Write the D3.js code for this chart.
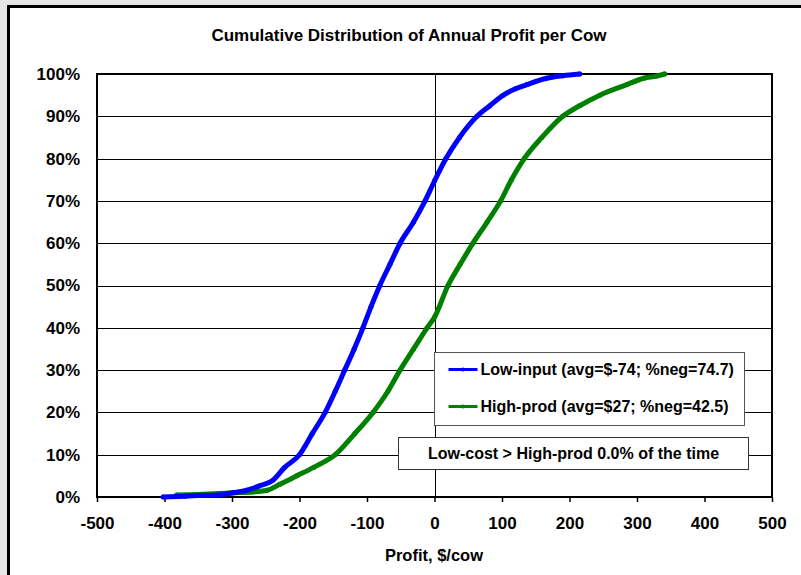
<!DOCTYPE html>
<html>
<head>
<meta charset="utf-8">
<script src="https://cdn.jsdelivr.net/npm/d3@7"></script>
<style>
  body { margin: 0; background: #e6e6e6; }
  svg { display: block; }
  text { font-family: "Liberation Sans", Arial, sans-serif; font-weight: bold; fill: #000; }
</style>
</head>
<body>
<script>
// tick values
const pctTicks = [0, 0.1, 0.2, 0.3, 0.4, 0.5, 0.6, 0.7, 0.8, 0.9, 1.0];
const profitTicks = [-500, -400, -300, -200, -100, 0, 100, 200, 300, 400, 500];

// Low-input: profit ($/cow) vs cumulative share
const lowInputProfit = [-402, -370, -340, -320, -298, -278, -260, -239, -222, -200, -181, -162, -147, -133, -119, -106, -94, -81, -66, -51, -31, -14, 0, 17, 37, 63, 82, 102, 120, 137, 166, 190, 215];
const lowInputPct    = [0, 0.002, 0.004, 0.005, 0.01, 0.016, 0.026, 0.04, 0.07, 0.10, 0.15, 0.20, 0.25, 0.30, 0.35, 0.40, 0.45, 0.50, 0.55, 0.60, 0.65, 0.70, 0.747, 0.80, 0.85, 0.90, 0.925, 0.95, 0.965, 0.975, 0.99, 0.996, 1.0];

// High-prod
const highProdProfit = [-382, -350, -320, -300, -270, -248, -229, -204, -179, -147, -118, -91, -69, -51, -31, -11, 0, 20, 38, 57, 78, 98, 114, 133, 159, 190, 215, 245, 285, 310, 329, 341];
const highProdPct    = [0.005, 0.006, 0.008, 0.01, 0.012, 0.016, 0.03, 0.05, 0.07, 0.10, 0.15, 0.20, 0.25, 0.30, 0.35, 0.40, 0.425, 0.50, 0.55, 0.60, 0.65, 0.70, 0.75, 0.80, 0.85, 0.90, 0.925, 0.95, 0.975, 0.99, 0.995, 1.0];

const seriesNames = ["Low-input (avg=$-74; %neg=74.7)", "High-prod (avg=$27; %neg=42.5)"];
const seriesColours = ["#0000ff", "#008000"];
const titleText = "Cumulative Distribution of Annual Profit per Cow";
const xTitle = "Profit, $/cow";
const noteText = "Low-cost > High-prod 0.0% of the time";

const W = 801, H = 575;
const margin = {top: 74, right: 29, bottom: 78, left: 97};
const width = W - margin.left - margin.right,
    height = H - margin.top - margin.bottom;

const svg = d3.select("body").append("svg")
    .attr("width", W)
    .attr("height", H);

// outer chart frame (runs off the right and bottom)
svg.append("rect")
    .attr("x", 8.5).attr("y", 6.5)
    .attr("width", W + 20).attr("height", H + 20)
    .attr("fill", "#fff")
    .attr("stroke", "#000")
    .attr("stroke-width", 3);

const x = d3.scaleLinear().domain([-500, 500]).range([0, width]);
const y = d3.scaleLinear().domain([0, 1]).range([height, 0]);

const g = svg.append("g")
    .attr("transform", `translate(${margin.left},${margin.top})`);

// horizontal gridlines
g.append("g")
    .call(d3.axisLeft(y).tickValues(pctTicks).tickSize(-width).tickFormat(""))
    .call(a => a.select(".domain").remove())
    .call(a => a.selectAll("line").attr("stroke", "#000").attr("shape-rendering", "crispEdges"));

// y tick labels on the left
g.append("g")
    .call(d3.axisLeft(y).tickValues(pctTicks).tickSize(0).tickPadding(17).tickFormat(d3.format(".0%")))
    .call(a => a.select(".domain").remove())
    .call(a => a.selectAll("text").attr("font-size", 17).attr("font-family", null));

// value axis crossing at 0
g.append("g")
    .attr("transform", `translate(${x(0)},0)`)
    .call(d3.axisLeft(y).tickValues(pctTicks).tickSize(4).tickFormat(""))
    .call(a => a.selectAll("path, line").attr("stroke", "#000").attr("shape-rendering", "crispEdges"));

// x axis
g.append("g")
    .attr("transform", `translate(0,${height})`)
    .call(d3.axisBottom(x).tickValues(profitTicks).tickSize(5).tickPadding(15).tickFormat(d => String(d)))
    .call(a => a.select(".domain").remove())
    .call(a => a.selectAll("line").attr("stroke", "#000").attr("stroke-width", 1.5))
    .call(a => a.selectAll("text").attr("font-size", 17).attr("font-family", null));

// plot border
g.append("rect")
    .attr("width", width).attr("height", height)
    .attr("fill", "none")
    .attr("stroke", "#000")
    .attr("stroke-width", 2);

// curves
const line = d3.line()
    .curve(d3.curveMonotoneX)
    .x(d => x(d[0]))
    .y(d => y(d[1]));

const series = [
    d3.zip(lowInputProfit, lowInputPct),
    d3.zip(highProdProfit, highProdPct)
];

series.slice().reverse().forEach((pts, i) => {
    const c = seriesColours[series.length - 1 - i];
    g.append("path")
        .datum(pts)
        .attr("d", line)
        .attr("fill", "none")
        .attr("stroke", c)
        .attr("stroke-width", 5)
        .attr("stroke-linejoin", "round")
        .attr("stroke-linecap", "round");
    g.append("g").selectAll("circle")
        .data(pts)
        .join("circle")
        .attr("cx", d => x(d[0]))
        .attr("cy", d => y(d[1]))
        .attr("r", 2.5)
        .attr("fill", c);
});

// legend
const legend = svg.append("g").attr("transform", "translate(434.5,352.5)");
legend.append("rect")
    .attr("width", 310).attr("height", 73)
    .attr("fill", "#fff")
    .attr("stroke", "#555")
    .attr("stroke-width", 1);
seriesNames.forEach((name, i) => {
    const row = legend.append("g").attr("transform", `translate(0,${17 + i * 37})`);
    row.append("line")
        .attr("x1", 14).attr("x2", 43)
        .attr("stroke", seriesColours[i])
        .attr("stroke-width", 3);
    row.append("circle").attr("cx", 28.5).attr("r", 2).attr("fill", seriesColours[i]);
    row.append("text")
        .attr("x", 46)
        .attr("dy", "0.35em")
        .attr("font-size", 16)
        .text(name);
});

// note box
const note = svg.append("g").attr("transform", "translate(398.5,437.5)");
note.append("rect")
    .attr("width", 350).attr("height", 32)
    .attr("fill", "#fff")
    .attr("stroke", "#333")
    .attr("stroke-width", 1);
note.append("text")
    .attr("x", 175).attr("y", 16)
    .attr("dy", "0.35em")
    .attr("text-anchor", "middle")
    .attr("font-size", 16)
    .text(noteText);

// titles
svg.append("text")
    .attr("x", 409).attr("y", 35)
    .attr("dy", "0.35em")
    .attr("text-anchor", "middle")
    .attr("font-size", 17)
    .text(titleText);

svg.append("text")
    .attr("x", 434).attr("y", 555)
    .attr("dy", "0.35em")
    .attr("text-anchor", "middle")
    .attr("font-size", 16.5)
    .text(xTitle);
</script>
</body>
</html>
